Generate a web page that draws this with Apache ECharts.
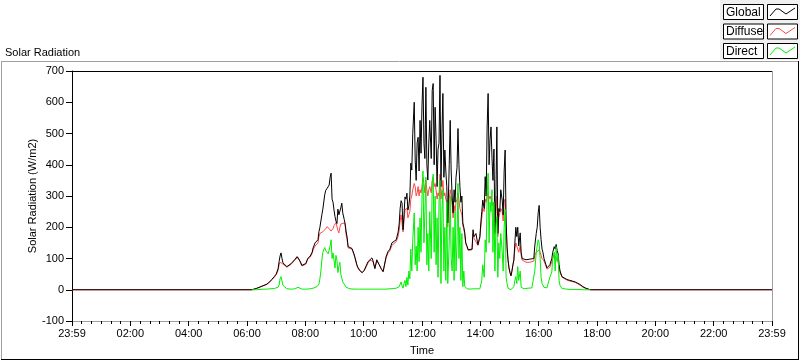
<!DOCTYPE html>
<html>
<head>
<meta charset="utf-8">
<script src="https://cdn.jsdelivr.net/npm/echarts@6/dist/echarts.min.js"></script>
<style>
html,body{margin:0;padding:0;background:#fff;}
#c{width:800px;height:361px;}
</style>
</head>
<body>
<div id="c"></div>
<script>
// Time in minutes after midnight (x axis spans 23:59 -> 23:59)
const times = [
0,370,379,387,395,401,407,411,416,420,
424,426,428,430,432,434,438,442,446,451,
455,459,463,465,469,473,477,481,485,490,
494,496,500,504,506,508,510,512,514,516,
520,522,525,527,529,531,533,535,537,539,
541,543,545,547,549,551,553,555,557,560,
562,564,566,568,572,576,580,582,586,588,
592,597,601,603,609,613,617,619,623,627,
632,636,640,644,646,650,654,658,662,667,
671,673,675,677,679,681,683,685,687,689,
691,693,695,697,699,701,704,706,708,710,
712,714,716,718,720,722,724,726,728,730,
732,734,736,739,741,743,745,747,749,751,
753,755,757,759,761,763,765,767,769,771,
773,776,778,780,782,784,786,788,790,792,
794,796,798,800,802,804,806,808,810,813,
815,819,823,825,827,831,835,839,841,843,
845,848,850,852,854,856,858,860,862,864,
866,868,870,872,874,876,878,880,882,885,
887,889,891,893,895,897,899,901,903,905,
907,909,911,913,915,917,919,922,924,926,
930,934,938,942,946,950,952,955,957,959,
961,963,965,967,969,971,973,975,977,979,
983,987,989,992,994,996,998,1000,1002,1004,
1008,1012,1018,1024,1029,1035,1039,1045,1051,1057,
1066,1440];

const globalRad = [
0,0,4,9,14,18,26,33,42,50,
68,90,108,118,100,86,82,74,78,84,
90,98,106,108,92,78,73,84,100,108,
120,134,150,146,160,186,200,220,240,258,
305,318,325,330,335,360,373,290,280,255,
234,220,212,258,240,236,262,277,246,225,
210,185,168,138,135,132,115,104,80,72,
62,55,62,68,90,96,102,94,68,96,
80,68,58,55,105,122,130,150,155,160,
185,210,260,285,277,192,240,297,290,309,
255,270,300,405,383,500,600,415,350,470,
488,380,542,437,590,680,469,420,648,400,
351,470,542,420,638,660,400,584,480,330,
450,469,686,330,500,628,360,447,380,330,
214,400,542,380,300,246,320,280,360,390,
516,400,330,280,300,214,200,182,150,138,
128,128,130,192,170,180,144,170,214,250,
287,260,362,300,521,628,400,480,521,420,
350,450,182,300,521,180,260,250,320,287,
240,380,447,220,138,96,70,55,45,60,
80,96,150,200,170,200,140,182,120,100,
100,96,100,98,102,100,140,180,200,246,
270,200,160,130,118,100,96,80,70,65,
80,100,120,138,130,145,125,115,80,60,
42,38,33,30,28,25,23,17,10,5,
0,0];

const diffuseRad = [
0,0,4,9,14,18,25,32,40,48,
62,80,88,92,90,82,80,72,76,82,
88,96,102,104,90,76,72,82,98,104,
116,128,140,138,150,170,180,185,182,186,
190,195,202,200,195,190,188,192,196,205,
210,215,218,190,182,200,210,213,210,214,
205,175,160,134,132,130,112,102,78,70,
60,54,60,66,86,94,98,92,68,92,
80,66,58,55,100,118,125,142,148,154,
172,190,220,240,245,185,220,255,250,262,
230,240,250,290,300,320,340,330,300,310,
330,300,320,310,330,360,340,310,350,320,
300,320,330,310,350,360,330,340,320,290,
310,300,370,290,320,350,300,310,290,280,
200,290,320,300,270,230,270,250,280,290,
310,290,260,250,240,205,195,175,148,135,
126,126,128,180,165,170,142,165,200,230,
260,250,290,280,300,310,290,300,300,280,
270,280,175,250,300,170,230,230,260,250,
220,280,290,200,130,94,68,54,44,58,
78,94,130,150,140,144,120,140,110,95,
90,88,92,88,94,92,110,120,120,125,
128,120,110,100,96,92,90,76,66,62,
72,90,100,110,108,100,105,90,70,55,
40,36,31,28,26,24,22,15,8,4,
0,0];

const directRad = [
null,0,0,1,2,2,3,3,4,5,
8,15,35,42,28,14,8,3,0,2,
3,3,6,8,4,2,2,2,3,3,
4,5,8,10,10,18,35,60,95,120,
135,125,130,115,110,140,160,100,118,95,
70,110,95,55,75,88,50,45,25,18,
12,8,5,4,3,2,2,2,2,2,
2,2,2,2,2,2,2,2,2,2,
2,2,2,2,2,3,3,3,4,5,
6,10,15,25,12,5,20,30,10,40,
15,60,35,130,60,160,246,80,140,60,
200,90,230,120,300,380,150,250,360,80,
180,60,250,100,340,370,120,300,80,230,
40,280,350,20,250,320,60,200,30,280,
20,150,300,100,60,200,30,250,60,150,
340,100,200,30,180,10,60,10,5,3,
2,2,2,3,2,3,2,3,5,30,
80,40,160,120,300,373,150,280,250,320,
120,280,60,200,234,40,150,100,180,120,
60,200,258,40,20,5,2,1,0,1,
2,10,30,42,20,74,30,60,8,4,
3,4,5,4,6,10,60,120,140,160,
150,100,40,20,15,8,6,4,6,8,
40,57,100,120,60,138,90,110,30,13,
4,2,2,1,1,1,1,1,0,0,
0,null];

const xTickLabels = ['23:59','02:00','04:00','06:00','08:00','10:00','12:00','14:00','16:00','18:00','20:00','22:00','23:59'];
const seriesNames = ['Global','Diffuse','Direct'];
const seriesColors = ['#000000','#ff4848','#00f000'];

function pairs(vals){ return times.map((t,i)=>[t, vals[i]]); }

const chart = echarts.init(document.getElementById('c'), null, {renderer:'canvas'});
const FONT = 'Liberation Sans';

// legend graphics (LabVIEW style boxes)
const legendGraphics = [];
legendGraphics.push({type:'rect', shape:{x:720,y:0,width:80,height:60}, style:{fill:'#f0f0f0'}, silent:true});
seriesNames.forEach((n,i)=>{
  const y0 = 4 + i*19.5;
  legendGraphics.push({type:'rect', shape:{x:723.5,y:y0+0.5,width:40,height:15}, style:{fill:'#fff', stroke:'#000', lineWidth:1}});
  legendGraphics.push({type:'text', x:726, y:y0+8.5, style:{text:n, font:'12px '+FONT, fill:'#000', textVerticalAlign:'middle', verticalAlign:'middle'}});
  legendGraphics.push({type:'rect', shape:{x:767.5,y:y0+0.5,width:30,height:15}, style:{fill:'#fff', stroke:'#000', lineWidth:1}});
  legendGraphics.push({type:'polyline', shape:{points:[[770,y0+12],[776,y0+5],[779,y0+5],[786,y0+10],[795,y0+4]]}, style:{stroke:seriesColors[i], lineWidth:1, fill:null}});
});

const option = {
  animation:false,
  backgroundColor:'#ffffff',
  textStyle:{fontFamily:FONT},
  grid:{left:72, top:71, right:28, bottom:39, containLabel:false},
  xAxis:{
    type:'value', min:0, max:1440, interval:120,
    name:'Time', nameLocation:'middle', nameGap:24, nameMoveOverlap:false,
    nameTextStyle:{fontSize:11, color:'#000', fontFamily:FONT},
    axisLine:{show:true, onZero:false, lineStyle:{color:'#a0a0a0', width:1}},
    axisTick:{show:true, length:5, lineStyle:{color:'#000'}},
    minorTick:{show:true, splitNumber:6, length:3, lineStyle:{color:'#000'}},
    splitLine:{show:false},
    axisLabel:{fontSize:11, color:'#000', margin:7, fontFamily:FONT,
      formatter:(v)=>xTickLabels[Math.round(v/120)]}
  },
  yAxis:{
    type:'value', min:-100, max:700, interval:100,
    name:'Solar Radiation (W/m2)', nameLocation:'middle', nameGap:34, nameMoveOverlap:false,
    nameTextStyle:{fontSize:11, color:'#000', fontFamily:FONT},
    axisLine:{show:true, onZero:false, lineStyle:{color:'#000', width:1}},
    axisTick:{show:true, length:6, lineStyle:{color:'#000'}},
    splitLine:{show:false},
    axisLabel:{fontSize:11, color:'#000', margin:8, fontFamily:FONT}
  },
  series:[
    {name:'Diffuse', type:'line', data:pairs(diffuseRad), showSymbol:false, symbol:'none', lineStyle:{color:seriesColors[1], width:1}, itemStyle:{color:seriesColors[1]}, z:2},
    {name:'Global', type:'line', data:pairs(globalRad), showSymbol:false, symbol:'none', lineStyle:{color:seriesColors[0], width:1}, itemStyle:{color:seriesColors[0]}, z:3},
    {name:'Direct', type:'line', data:pairs(directRad), showSymbol:false, symbol:'none', connectNulls:false, lineStyle:{color:seriesColors[2], width:1}, itemStyle:{color:seriesColors[2]}, z:4}
  ],
  graphic:[
    // outer frame
    {type:'line', shape:{x1:1,y1:61.5,x2:798,y2:61.5}, style:{stroke:'#a0a0a0', lineWidth:1}, silent:true},
    {type:'line', shape:{x1:1.5,y1:61,x2:1.5,y2:359}, style:{stroke:'#a0a0a0', lineWidth:1}, silent:true},
    {type:'line', shape:{x1:1,y1:359.5,x2:799,y2:359.5}, style:{stroke:'#000', lineWidth:1}, silent:true},
    {type:'line', shape:{x1:798.5,y1:61,x2:798.5,y2:360}, style:{stroke:'#000', lineWidth:1}, silent:true},
    // plot frame top & right
    {type:'line', shape:{x1:72,y1:71.5,x2:772,y2:71.5}, style:{stroke:'#000', lineWidth:1}, silent:true},
    {type:'line', shape:{x1:772.5,y1:71,x2:772.5,y2:322}, style:{stroke:'#a0a0a0', lineWidth:1}, silent:true},
    {type:'text', x:5, y:53, style:{text:'Solar Radiation', font:'11px '+FONT, fill:'#000', textVerticalAlign:'middle', verticalAlign:'middle'}, silent:true}
  ].concat(legendGraphics)
};
chart.setOption(option);
</script>
</body>
</html>
